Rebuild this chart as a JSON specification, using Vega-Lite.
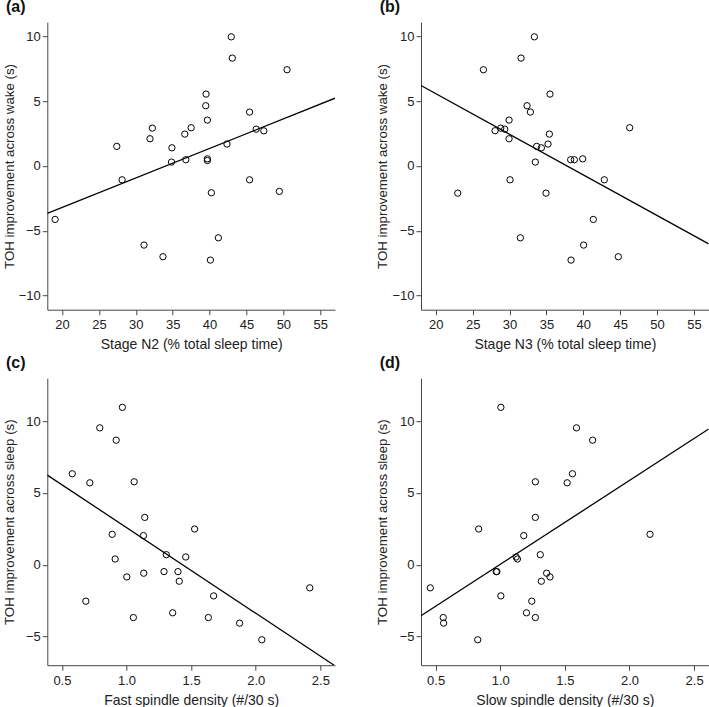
{
  "$schema": "https://vega.github.io/schema/vega-lite/v6.json",
  "padding": {"left": 2.3, "top": -0.8, "right": 0, "bottom": 0},
  "autosize": {"type": "pad"},
  "background": "white",
  "config": {
    "font": "Liberation Sans",
    "view": {"stroke": null},
    "axis": {"grid": false, "domainColor": "#444", "tickColor": "#444", "tickSize": 5, "labelFontSize": 13, "labelColor": "#222", "titleFontSize": 14, "titleFontWeight": "normal", "titleColor": "#222", "domainWidth": 1, "tickWidth": 1, "labelFlush": false, "labelOverlap": false},
    "axisX": {"titleY": 35, "titleBaseline": "middle", "labelPadding": 4},
    "axisY": {"titleX": -38, "titleBaseline": "middle", "labelPadding": 2, "titleFontSize": 13.3},
    "title": {"anchor": "start", "frame": "group", "fontSize": 16, "fontWeight": "bold", "color": "#111", "dx": -41.3, "offset": 7, "baseline": "alphabetic"}
  },
  "columns": 2,
  "bounds": "flush",
  "spacing": {"row": 68, "column": 85.7},
  "concat": [
    {
      "title": {"text": "(a)"},
      "width": 287.7,
      "height": 287.5,
      "encoding": {
        "x": {"field": "x", "type": "quantitative", "title": "Stage N2 (% total sleep time)", "scale": {"domain": [18, 57], "nice": false, "zero": false}, "axis": {"values": [20, 25, 30, 35, 40, 45, 50, 55]}},
        "y": {"field": "y", "type": "quantitative", "title": "TOH improvement across wake (s)", "scale": {"domain": [-11.1, 11.1], "nice": false}, "axis": {"values": [-10, -5, 0, 5, 10]}}
      },
      "layer": [
        {
          "data": {"values": [
            {"x": 19.06, "y": -4.13}, {"x": 27.42, "y": 1.51}, {"x": 28.14, "y": -1.07}, {"x": 31.11, "y": -6.11},
            {"x": 31.92, "y": 2.10}, {"x": 32.24, "y": 2.92}, {"x": 33.68, "y": -7.01}, {"x": 34.84, "y": 0.30},
            {"x": 34.89, "y": 1.40}, {"x": 36.64, "y": 2.46}, {"x": 36.78, "y": 0.48}, {"x": 37.50, "y": 2.95},
            {"x": 39.52, "y": 5.55}, {"x": 39.48, "y": 4.65}, {"x": 39.70, "y": 3.54}, {"x": 39.70, "y": 0.55},
            {"x": 39.70, "y": 0.42}, {"x": 40.24, "y": -2.07}, {"x": 40.11, "y": -7.27}, {"x": 41.19, "y": -5.55},
            {"x": 42.36, "y": 1.69}, {"x": 42.94, "y": 9.97}, {"x": 43.08, "y": 8.33}, {"x": 45.42, "y": 4.16},
            {"x": 45.42, "y": -1.07}, {"x": 46.32, "y": 2.84}, {"x": 47.35, "y": 2.71}, {"x": 49.46, "y": -1.97},
            {"x": 50.50, "y": 7.43}
          ]},
          "mark": {"type": "point", "shape": "circle", "filled": false, "color": "black", "size": 40, "strokeWidth": 1, "opacity": 1}
        },
        {
          "data": {"values": [{"x": 18, "y": -3.67}, {"x": 57, "y": 5.23}]},
          "mark": {"type": "line", "color": "black", "strokeWidth": 1.3, "clip": true}
        }
      ]
    },
    {
      "title": {"text": "(b)"},
      "width": 287.7,
      "height": 287.5,
      "encoding": {
        "x": {"field": "x", "type": "quantitative", "title": "Stage N3 (% total sleep time)", "scale": {"domain": [18, 57], "nice": false, "zero": false}, "axis": {"values": [20, 25, 30, 35, 40, 45, 50, 55]}},
        "y": {"field": "y", "type": "quantitative", "title": "TOH improvement across wake (s)", "scale": {"domain": [-11.1, 11.1], "nice": false}, "axis": {"values": [-10, -5, 0, 5, 10]}}
      },
      "layer": [
        {
          "data": {"values": [
            {"x": 22.98, "y": -2.10}, {"x": 26.46, "y": 7.43}, {"x": 28.04, "y": 2.72}, {"x": 28.81, "y": 2.92},
            {"x": 29.35, "y": 2.84}, {"x": 29.94, "y": 3.54}, {"x": 29.94, "y": 2.10}, {"x": 30.07, "y": -1.07},
            {"x": 31.47, "y": -5.55}, {"x": 31.56, "y": 8.33}, {"x": 32.38, "y": 4.65}, {"x": 32.83, "y": 4.16},
            {"x": 33.37, "y": 9.97}, {"x": 33.50, "y": 0.30}, {"x": 33.68, "y": 1.51}, {"x": 34.32, "y": 1.40},
            {"x": 34.95, "y": -2.10}, {"x": 35.22, "y": 1.69}, {"x": 35.40, "y": 2.46}, {"x": 35.49, "y": 5.55},
            {"x": 38.29, "y": 0.48}, {"x": 38.79, "y": 0.48}, {"x": 38.34, "y": -7.27}, {"x": 39.92, "y": 0.55},
            {"x": 40.05, "y": -6.11}, {"x": 41.36, "y": -4.13}, {"x": 42.85, "y": -1.07}, {"x": 44.75, "y": -7.01},
            {"x": 46.29, "y": 2.95}
          ]},
          "mark": {"type": "point", "shape": "circle", "filled": false, "color": "black", "size": 40, "strokeWidth": 1, "opacity": 1}
        },
        {
          "data": {"values": [{"x": 18, "y": 6.21}, {"x": 57, "y": -6.02}]},
          "mark": {"type": "line", "color": "black", "strokeWidth": 1.3, "clip": true}
        }
      ]
    },
    {
      "title": {"text": "(c)"},
      "width": 287.7,
      "height": 287,
      "encoding": {
        "x": {"field": "x", "type": "quantitative", "title": "Fast spindle density (#/30 s)", "scale": {"domain": [0.387, 2.613], "nice": false, "zero": false}, "axis": {"values": [0.5, 1.0, 1.5, 2.0, 2.5], "format": ".1f"}},
        "y": {"field": "y", "type": "quantitative", "title": "TOH improvement across sleep (s)", "scale": {"domain": [-7, 13], "nice": false}, "axis": {"values": [-5, 0, 5, 10]}}
      },
      "layer": [
        {
          "data": {"values": [
            {"x": 0.580, "y": 6.34}, {"x": 0.685, "y": -2.54}, {"x": 0.716, "y": 5.71}, {"x": 0.793, "y": 9.54},
            {"x": 0.889, "y": 2.12}, {"x": 0.912, "y": 0.40}, {"x": 0.920, "y": 8.68}, {"x": 0.968, "y": 10.97},
            {"x": 1.002, "y": -0.85}, {"x": 1.053, "y": -3.68}, {"x": 1.059, "y": 5.78}, {"x": 1.131, "y": 2.03},
            {"x": 1.133, "y": -0.59}, {"x": 1.141, "y": 3.30}, {"x": 1.290, "y": -0.48}, {"x": 1.308, "y": 0.70},
            {"x": 1.357, "y": -3.35}, {"x": 1.398, "y": -0.48}, {"x": 1.408, "y": -1.15}, {"x": 1.458, "y": 0.54},
            {"x": 1.527, "y": 2.49}, {"x": 1.633, "y": -3.68}, {"x": 1.674, "y": -2.17}, {"x": 1.875, "y": -4.07},
            {"x": 2.047, "y": -5.23}, {"x": 2.418, "y": -1.61}
          ]},
          "mark": {"type": "point", "shape": "circle", "filled": false, "color": "black", "size": 40, "strokeWidth": 1, "opacity": 1}
        },
        {
          "data": {"values": [{"x": 0.387, "y": 6.25}, {"x": 2.606, "y": -7.0}]},
          "mark": {"type": "line", "color": "black", "strokeWidth": 1.3, "clip": true}
        }
      ]
    },
    {
      "title": {"text": "(d)"},
      "width": 287.7,
      "height": 287,
      "encoding": {
        "x": {"field": "x", "type": "quantitative", "title": "Slow spindle density (#/30 s)", "scale": {"domain": [0.387, 2.613], "nice": false, "zero": false}, "axis": {"values": [0.5, 1.0, 1.5, 2.0, 2.5], "format": ".1f"}},
        "y": {"field": "y", "type": "quantitative", "title": "TOH improvement across sleep (s)", "scale": {"domain": [-7, 13], "nice": false}, "axis": {"values": [-5, 0, 5, 10]}}
      },
      "layer": [
        {
          "data": {"values": [
            {"x": 0.459, "y": -1.61}, {"x": 0.559, "y": -3.68}, {"x": 0.562, "y": -4.07}, {"x": 0.826, "y": -5.23},
            {"x": 0.833, "y": 2.49}, {"x": 0.969, "y": -0.48}, {"x": 0.974, "y": -0.48}, {"x": 1.005, "y": 10.97},
            {"x": 1.005, "y": -2.17}, {"x": 1.123, "y": 0.54}, {"x": 1.133, "y": 0.40}, {"x": 1.182, "y": 2.03},
            {"x": 1.203, "y": -3.35}, {"x": 1.244, "y": -2.54}, {"x": 1.272, "y": 5.78}, {"x": 1.272, "y": 3.30},
            {"x": 1.272, "y": -3.68}, {"x": 1.310, "y": 0.70}, {"x": 1.318, "y": -1.15}, {"x": 1.359, "y": -0.59},
            {"x": 1.385, "y": -0.85}, {"x": 1.518, "y": 5.71}, {"x": 1.559, "y": 6.34}, {"x": 1.590, "y": 9.54},
            {"x": 1.715, "y": 8.68}, {"x": 2.159, "y": 2.12}
          ]},
          "mark": {"type": "point", "shape": "circle", "filled": false, "color": "black", "size": 40, "strokeWidth": 1, "opacity": 1}
        },
        {
          "data": {"values": [{"x": 0.387, "y": -3.56}, {"x": 2.613, "y": 9.46}]},
          "mark": {"type": "line", "color": "black", "strokeWidth": 1.3, "clip": true}
        }
      ]
    }
  ]
}
